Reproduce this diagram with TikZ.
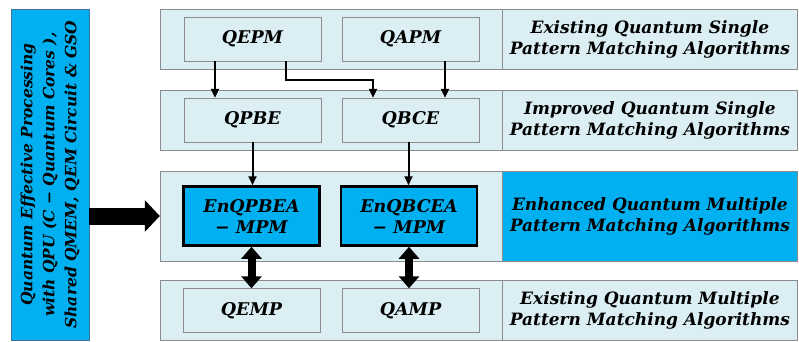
\documentclass[tikz,border=0pt]{standalone}
\usepackage{fontspec}
\setmainfont{DejaVu Serif}
\usetikzlibrary{
  arrows.meta,
  positioning,
  calc
}
\definecolor{qmLight}{HTML}{DAEEF3}
\definecolor{qmBlue}{HTML}{00B0F0}
\definecolor{qmEdge}{HTML}{8C8C8C}
\definecolor{qmDark}{HTML}{41719C}
\tikzset{
  qmnode/.style={
    draw=qmEdge, minimum height=44pt, minimum width=137pt,
    font=\fontsize{17.5}{21}\selectfont\bfseries\itshape, align=center, inner sep=0pt
  },
  band/.style={draw=qmEdge, fill=qmLight, minimum width=342pt, minimum height=60pt, inner sep=0pt},
  algbox/.style={qmnode, fill=qmLight},
  enbox/.style={qmnode, fill=qmBlue, draw=black, line width=2.5pt, minimum width=136pt, minimum height=59pt},
  lblbox/.style={
    draw=qmEdge, fill=qmLight, minimum width=295pt, minimum height=60pt, inner sep=0pt,
    font=\fontsize{17}{21}\selectfont\bfseries\itshape, align=center
  },
  hostbox/.style={
    draw=qmDark, fill=qmBlue, minimum width=331pt, minimum height=78pt, inner sep=0pt,
    rotate=90, font=\fontsize{15.5}{22}\selectfont\bfseries\itshape, align=center
  },
  flow/.style={-{Triangle[width=8pt,length=9pt]}, line width=2pt, black},
  dflow/.style={{Triangle[width=20pt,length=12pt]}-{Triangle[width=20pt,length=12pt]}, line width=8pt, black},
  bigflow/.style={-{Triangle[width=31pt,length=15pt]}, line width=17pt, black}
}
\begin{document}
\begin{tikzpicture}[x=1pt, y=-1pt, node distance=0pt]
  \useasboundingbox (0,0) rectangle (799,341);
  % bands
  \node[band] (b1) at (331,39) {};
  \node[band] (b2) at (331,120) {};
  \node[band, minimum height=90pt] (b3) at (331,216) {};
  \node[band] (b4) at (331,310) {};
  \node[lblbox, right=0pt of b1] (l1) {Existing Quantum Single\\Pattern Matching Algorithms};
  \node[lblbox, right=0pt of b2] (l2) {Improved Quantum Single\\Pattern Matching Algorithms};
  \node[lblbox, right=0pt of b3, fill=qmBlue, minimum height=90pt] (l3) {Enhanced Quantum Multiple\\Pattern Matching Algorithms};
  \node[lblbox, right=0pt of b4] (l4) {Existing Quantum Multiple\\Pattern Matching Algorithms};
  % algorithms
  \node[algbox] (qepm) at (252.5,39) {QEPM};
  \node[algbox] (qapm) at (410.5,39) {QAPM};
  \node[algbox] (qpbe) at (252.5,120) {QPBE};
  \node[algbox] (qbce) at (410.5,120) {QBCE};
  \node[enbox] (enqpbea) at (251.5,216) {EnQPBEA\\− MPM};
  \node[enbox] (enqbcea) at (409,216) {EnQBCEA\\− MPM};
  \node[algbox] (qemp) at (251.5,310.5) {QEMP};
  \node[algbox] (qamp) at (410.5,310.5) {QAMP};
  % host
  \node[hostbox] (host) at (50,174.5) {Quantum Effective Processing\\with QPU (C − Quantum Cores ),\\Shared QMEM, QEM Circuit \& GSO};
  % connectors
  \coordinate (elbow) at ($([xshift=33.5pt]qepm.south)!0.5!([xshift=33.5pt]qpbe.north)$);
  \draw[flow] ([xshift=-37.5pt]qepm.south) -- ([xshift=-37.5pt]qpbe.north);
  \draw[flow] ([xshift=33.5pt]qepm.south) -- (elbow) -| ([xshift=-37.5pt]qbce.north);
  \draw[flow] ([xshift=34.5pt]qapm.south) -- ([xshift=34.5pt]qbce.north);
  \draw[flow] (qpbe.south) -- (qpbe.south |- enqpbea.north);
  \draw[flow] ([xshift=-2pt]qbce.south) -- ([xshift=-2pt]qbce.south |- enqbcea.north);
  \foreach \a/\b in {enqpbea/qemp, enqbcea/qamp}{\draw[dflow] (\a.south) -- (\a.south |- \b.north);}
  \draw[bigflow] (host.south |- b3.west) -- (b3.west);
\end{tikzpicture}
\end{document}
